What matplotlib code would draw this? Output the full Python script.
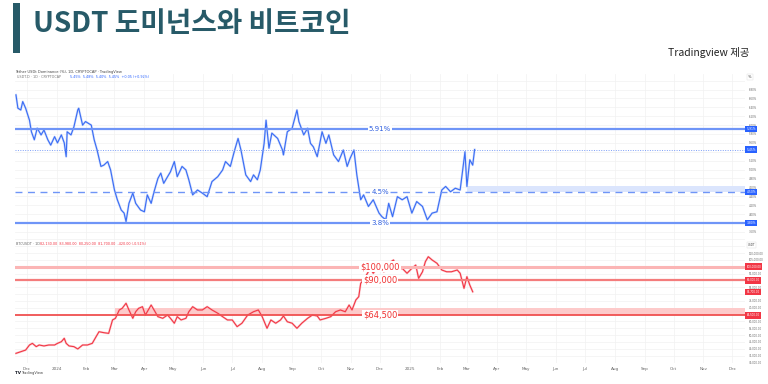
import pandas as pd
import matplotlib
matplotlib.use("Agg")
import matplotlib.pyplot as plt
import matplotlib.dates as mdates
from matplotlib.patches import Rectangle
from matplotlib.ticker import MultipleLocator, FuncFormatter

start = pd.Timestamp("2023-11-20")
view_days = 755

# USDT dominance (%)
usdt_days = [0, 2, 5, 7, 10, 14, 16, 19, 22, 26, 29, 33, 36, 40, 43, 47, 50, 52, 53, 57,
             60, 64, 65, 69, 72, 78, 81, 84, 88, 91, 95, 98, 102, 105, 109, 112, 114, 117, 121, 124,
             129, 133, 136, 140, 143, 147, 150, 153, 157, 160, 164, 167, 172, 176, 179, 183, 188, 193, 198, 203,
             209, 214, 217, 222, 226, 230, 233, 238, 243, 246, 250, 253, 257, 259, 262, 265, 271, 276, 277, 281,
             286, 291, 293, 298, 302, 305, 308, 312, 317, 321, 324, 329, 334, 339, 343, 346, 350, 353, 357, 360,
             365, 370, 376, 379, 383, 386, 390, 395, 400, 405, 410, 415, 421, 426, 431, 436, 441, 445, 450, 455,
             460, 462, 465, 467, 470, 473, 475]
usdt_values = [6.68, 6.38, 6.34, 6.53, 6.38, 6.11, 5.85, 5.67, 5.93, 5.78,
               5.89, 5.67, 5.55, 5.74, 5.60, 5.78, 5.60, 5.29, 5.85, 5.78,
               5.96, 6.34, 6.38, 6.00, 6.08, 6.00, 5.67, 5.44, 5.07, 5.10,
               5.18, 4.99, 4.54, 4.32, 4.09, 4.02, 3.83, 4.24, 4.47, 4.24,
               4.09, 4.05, 4.43, 4.24, 4.50, 4.80, 4.92, 4.69, 4.84, 4.95,
               5.18, 4.84, 5.07, 4.99, 4.77, 4.43, 4.54, 4.47, 4.39, 4.73,
               4.84, 4.99, 5.18, 5.07, 5.40, 5.70, 5.44, 4.88, 4.73, 4.88,
               4.77, 4.99, 5.59, 6.11, 5.48, 5.82, 5.70, 5.44, 5.33, 5.85,
               5.93, 6.34, 6.08, 5.78, 5.93, 5.59, 5.51, 5.29, 5.85, 5.59,
               5.78, 5.33, 5.18, 5.44, 5.07, 5.25, 5.44, 4.88, 4.32, 4.43,
               4.17, 4.32, 4.02, 3.94, 3.87, 4.24, 3.94, 4.39, 4.32, 4.39,
               4.02, 4.28, 4.17, 3.87, 4.02, 4.05, 4.54, 4.62, 4.50, 4.58,
               4.54, 4.88, 5.40, 4.62, 5.22, 5.10, 5.45]

# BTC price (USDT)
btc_days = [0, 5, 10, 14, 17, 21, 24, 29, 34, 40, 43, 47, 50, 52, 55, 60, 64, 69, 74, 79,
            83, 86, 91, 96, 100, 103, 107, 110, 114, 117, 121, 124, 127, 131, 134, 140, 143, 147, 152, 157,
            160, 164, 167, 171, 176, 179, 183, 188, 193, 198, 203, 209, 214, 219, 224, 229, 234, 240, 246, 251,
            255, 260, 264, 269, 274, 277, 281, 286, 291, 296, 302, 307, 312, 315, 321, 326, 331, 336, 341, 345,
            348, 352, 355, 357, 360, 364, 367, 370, 376, 381, 386, 391, 395, 400, 405, 410, 414, 417, 421, 424,
            427, 431, 436, 441, 446, 451, 457, 460, 464, 467, 470, 473]
btc_values = [36700, 37900, 39100, 42800, 44000, 41600, 42800, 42100, 42800, 42800,
              44000, 45200, 47700, 44000, 42100, 41600, 39900, 42800, 42800, 44000,
              48900, 52500, 51800, 51300, 61100, 62300, 68400, 69600, 73300, 68400,
              62300, 67100, 69600, 70800, 64700, 72000, 68400, 63500, 62300, 64700,
              62300, 58700, 63500, 61100, 62300, 67100, 70800, 68400, 68400, 70800,
              68400, 66000, 63500, 61100, 61100, 56200, 58700, 64700, 67100, 68400,
              63500, 55000, 61100, 58700, 61100, 64000, 59800, 58700, 55000, 58700,
              62300, 64700, 64000, 61100, 62300, 63500, 67100, 68400, 67100, 72000,
              68400, 75700, 78100, 87900, 90300, 95200, 98800, 95200, 101200, 96300,
              102500, 104900, 97600, 98800, 95200, 98800, 101200, 91500, 96300, 103700,
              107300, 104900, 102500, 97600, 96300, 96300, 97600, 95200, 84200, 92700,
              86600, 81700]

usdt_levels = [5.91, 4.5, 3.8]
usdt_level_labels = ["5.91%", "4.5%", "3.8%"]
usdt_last = 5.45
usdt_zone = (4.5, 4.63)
usdt_zone_start = 467

btc_levels = [100000, 90000, 64500]
btc_level_labels = ["$100,000", "$90,000", "$64,500"]
btc_zone = (64500, 69600)
btc_zone_start = 103
btc_last = 81700

BLUE = "#3a6cf4"
RED = "#f23645"
TEAL = "#275a68"

usdt_dates = start + pd.to_timedelta(usdt_days, unit="D")
btc_dates = start + pd.to_timedelta(btc_days, unit="D")
x0 = start - pd.Timedelta(days=1)
x1 = start + pd.Timedelta(days=view_days)

fig = plt.figure(figsize=(7.68, 3.84), dpi=100)
ax1 = fig.add_axes([15 / 768, 1 - 238 / 384, 730 / 768, 164 / 384])
ax2 = fig.add_axes([15 / 768, 1 - 363 / 384, 730 / 768, 125 / 384], sharex=ax1)


def month_fmt(x, pos):
    d = mdates.num2date(x)
    return str(d.year) if d.month == 1 else d.strftime("%b")


# tick labels hidden where a price box sits on the scale (like TradingView does)
usdt_boxes = usdt_levels + [usdt_last]
btc_boxes = btc_levels + [btc_last]


def usdt_fmt(v, pos):
    if v > 6.9 or any(abs(v - b) < 0.08 for b in usdt_boxes):
        return ""
    return f"{v:.2f}%"


def btc_fmt(v, pos):
    if v > 112000 or any(abs(v - b) < 3000 for b in btc_boxes):
        return ""
    return f"{v:,.2f}"


for ax in (ax1, ax2):
    for s in ax.spines.values():
        s.set_visible(False)
    ax.grid(True, color="#f1f1f1", lw=0.5)
    ax.set_axisbelow(True)
    ax.yaxis.tick_right()
    ax.tick_params(axis="y", labelsize=1.9, colors="#666666", length=0, pad=2.5)
    ax.tick_params(axis="x", length=0)

ax1.xaxis.set_major_locator(mdates.MonthLocator())
ax1.xaxis.set_major_formatter(FuncFormatter(month_fmt))
ax1.set_xlim(x0, x1)
ax1.tick_params(axis="x", labelbottom=False)
ax2.tick_params(axis="x", labelsize=3, colors="#666666", pad=3)

# --- USDT dominance pane ---
ax1.set_ylim(3.46, 7.15)
ax1.yaxis.set_major_locator(MultipleLocator(0.2))
ax1.yaxis.set_major_formatter(FuncFormatter(usdt_fmt))
ax1.fill_between([start + pd.Timedelta(days=usdt_zone_start), x1], usdt_zone[0], usdt_zone[1],
                 color="#dbe5fd", lw=0)
ax1.plot(usdt_dates, usdt_values, color="#9db8fa", lw=1.6, alpha=0.5)
ax1.plot(usdt_dates, usdt_values, color=BLUE, lw=0.8)
ax1.axhline(usdt_levels[0], color="#6f95f7", lw=1.6)
ax1.axhline(usdt_levels[1], color="#6f95f7", lw=1.0, ls=(0, (5, 4)))
ax1.axhline(usdt_levels[2], color="#6f95f7", lw=1.6)
ax1.axhline(usdt_last, color="#7d9ff7", lw=0.7, ls=(0, (1, 1.5)))
ytr1 = ax1.get_yaxis_transform()
for v, lab in zip(usdt_levels, usdt_level_labels):
    ax1.text(0.5, v, lab, transform=ytr1, ha="center", va="center", fontsize=5,
             color="#3060e0", bbox=dict(fc="white", ec="none", pad=0.6))
for v in usdt_boxes:
    ax1.text(1.002, v, f"{v:.2f}%", transform=ytr1, ha="left", va="center", fontsize=2.2,
             color="white", bbox=dict(fc="#2962ff", ec="none", pad=0.9), clip_on=False, zorder=6)

# --- BTC pane ---
ax2.set_ylim(29650, 120970)
ax2.yaxis.set_major_locator(MultipleLocator(5000))
ax2.yaxis.set_major_formatter(FuncFormatter(btc_fmt))
ax2.fill_between([start + pd.Timedelta(days=btc_zone_start), x1], btc_zone[0], btc_zone[1],
                 color="#fdcaca", lw=0)
ax2.plot(btc_dates, btc_values, color="#f8a0a6", lw=1.6, alpha=0.5)
ax2.plot(btc_dates, btc_values, color=RED, lw=0.8)
ax2.axhline(btc_levels[0], color="#fbb5b5", lw=2.2)
ax2.axhline(btc_levels[1], color="#f47c7c", lw=1.6)
ax2.axhline(btc_levels[2], color="#f05050", lw=1.3)
ytr2 = ax2.get_yaxis_transform()
for v, lab in zip(btc_levels, btc_level_labels):
    ax2.text(0.5, v, lab, transform=ytr2, ha="center", va="center", fontsize=6,
             color="#f03030", bbox=dict(fc="white", ec="none", pad=0.6), zorder=5)
for v in btc_boxes:
    ax2.text(1.002, v, f"{v:,.2f}", transform=ytr2, ha="left", va="center", fontsize=1.9,
             color="white", bbox=dict(fc="#f23645", ec="none", pad=0.9), clip_on=False, zorder=6)

# --- header and small chart captions ---
fig.add_artist(Rectangle((13 / 768, 1 - 53 / 384), 7 / 768, 50 / 384,
                         transform=fig.transFigure, color=TEAL, lw=0))
fig.text(33 / 768, 1 - 24 / 384, "USDT 도미넌스와 비트코인", fontsize=20, weight="bold",
         color=TEAL, va="center", family=["Noto Sans CJK KR", "DejaVu Sans"])
fig.text(750 / 768, 1 - 52 / 384, "Tradingview 제공", fontsize=7.5, color="#222222",
         ha="right", va="center", family=["Noto Sans CJK KR", "DejaVu Sans"])

fig.text(15 / 768, 1 - 71.5 / 384, "Tether USDt Dominance (%), 1D, CRYPTOCAP · TradingView",
         fontsize=2.6, color="#444444", va="center")
fig.text(17 / 768, 1 - 76.5 / 384, "USDT.D · 1D · CRYPTOCAP", fontsize=2.4,
         color="#777777", va="center")
fig.text(70 / 768, 1 - 76.5 / 384, "5.45%  5.48%  5.40%  5.45%  +0.05 (+0.92%)", fontsize=2.4,
         color="#2962ff", va="center")
fig.text(748 / 768, 1 - 77 / 384, "%", fontsize=2.6, color="#444444", va="center",
         bbox=dict(fc="white", ec="#dddddd", lw=0.3, pad=0.8))

fig.text(16 / 768, 1 - 244 / 384, "BTCUSDT · 1D", fontsize=2.4, color="#666666",
         va="center")
fig.text(40 / 768, 1 - 244 / 384, "82,130.00  83,980.00  80,250.00  81,700.00  -420.00 (-0.51%)",
         fontsize=2.4, color=RED, va="center")
fig.text(748 / 768, 1 - 245 / 384, "USDT", fontsize=2.0, color="#444444", va="center",
         bbox=dict(fc="white", ec="#dddddd", lw=0.3, pad=0.6))

fig.text(15 / 768, 1 - 373 / 384, "TV", fontsize=3, weight="bold", color="#131722", va="center")
fig.text(21 / 768, 1 - 373 / 384, "TradingView", fontsize=2.6, color="#444444", va="center")

fig.savefig("out.png", dpi=100)
